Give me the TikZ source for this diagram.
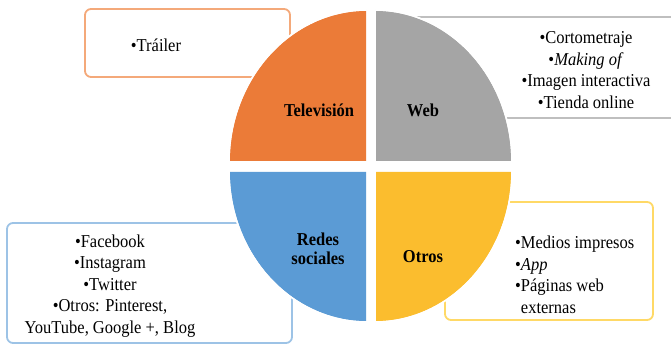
\documentclass[tikz,border=0pt]{standalone}
\usepackage{fontspec}
\setmainfont{Liberation Serif}
\definecolor{tvorange}{HTML}{EB7B38}
\definecolor{webgray}{HTML}{A5A5A5}
\definecolor{socblue}{HTML}{5B9BD5}
\definecolor{othyellow}{HTML}{FBBD2E}
\definecolor{tvline}{HTML}{F4A97A}
\definecolor{webline}{HTML}{BFBFBF}
\definecolor{socline}{HTML}{9DC3E6}
\definecolor{othline}{HTML}{FFD966}
\begin{document}
\begin{tikzpicture}[x=1pt,y=1pt,
  infobox/.style={rounded corners=6pt, line width=1.8pt, fill=white},
  quad/.style={draw=white, line width=1.5pt},
  itemtext/.style={font=\fontsize{16.5}{19.6}\selectfont, inner sep=0pt, yscale=1.1, transform shape},
  quadlabel/.style={font=\fontsize{16.5}{16.8}\selectfont\bfseries, align=center, inner sep=0pt, yscale=1.1, transform shape}]
\useasboundingbox (0,0) rectangle (671,-344);
\clip (0,0) rectangle (671,-344);
% boxes
\draw[infobox, draw=tvline] (85,-9) rectangle (290,-77);
\draw[infobox, draw=webline] (400,-17) rectangle (690,-118);
\draw[infobox, draw=socline] (7,-223) rectangle (292,-343);
\draw[infobox, draw=othline] (445,-202) rectangle (653,-320);
% quadrants
\fill[quad, fill=tvorange] (367,-162) -- ++(-138,0) arc[start angle=180, end angle=90, x radius=138, y radius=152] -- cycle;
\fill[quad, fill=webgray] (375,-162) -- ++(0,152) arc[start angle=90, end angle=0, x radius=137, y radius=152] -- cycle;
\fill[quad, fill=socblue] (367,-171) -- ++(-138,0) arc[start angle=180, end angle=270, x radius=138, y radius=151] -- cycle;
\fill[quad, fill=othyellow] (375,-171) -- ++(137,0) arc[start angle=0, end angle=-90, x radius=137, y radius=151] -- cycle;
\draw[quad] (367,-162) -- ++(-138,0) arc[start angle=180, end angle=90, x radius=138, y radius=152] -- cycle;
\draw[quad] (375,-162) -- ++(0,152) arc[start angle=90, end angle=0, x radius=137, y radius=152] -- cycle;
\draw[quad] (367,-171) -- ++(-138,0) arc[start angle=180, end angle=270, x radius=138, y radius=151] -- cycle;
\draw[quad] (375,-171) -- ++(137,0) arc[start angle=0, end angle=-90, x radius=137, y radius=151] -- cycle;
% quadrant labels
\node[quadlabel] (tv) at (319,-110) {Televisión};
\node[quadlabel] (web) at (423,-110) {Web};
\node[quadlabel] (soc) at (318,-249) {Redes\\sociales};
\node[quadlabel] (oth) at (423,-257) {Otros};
% box texts
\node[itemtext] (tvtxt) at (156,-45) {•Tráiler};
\node[itemtext, align=center] (webtxt) at (586,-70) {•Cortometraje\\•\textit{Making of}\\•Imagen interactiva\\•Tienda online};
\node[itemtext, align=center] (soctxt) at (110,-286) {•Facebook\\•Instagram\\•Twitter\\•Otros: Pinterest,\\YouTube, Google +, Blog};
\node[itemtext, align=left, anchor=west] (othtxt) at (515,-275) {•Medios impresos\\•\textit{App}\\•Páginas web\\\phantom{•}externas};
\end{tikzpicture}
\end{document}
